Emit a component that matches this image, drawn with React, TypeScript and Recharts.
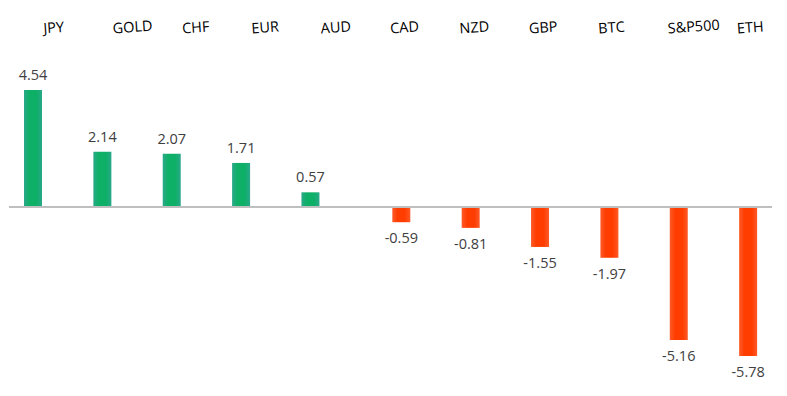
import React from 'react';
import { BarChart, Bar, XAxis, YAxis, ReferenceLine, LabelList } from 'recharts';

const categories = ['JPY', 'GOLD', 'CHF', 'EUR', 'AUD', 'CAD', 'NZD', 'GBP', 'BTC', 'S&P500', 'ETH'];
const changes = [4.54, 2.14, 2.07, 1.71, 0.57, -0.59, -0.81, -1.55, -1.97, -5.16, -5.78];

const chartData = categories.map((name, i) => ({
  name,
  gain: changes[i] > 0 ? changes[i] : null,
  loss: changes[i] < 0 ? changes[i] : null,
}));

const FONT = "'Open Sans', sans-serif";

const CategoryTick = (props: any) => {
  const { x, y, payload } = props;
  return (
    <text
      x={x}
      y={y}
      dy={-11}
      textAnchor="start"
      fill="#000"
      fontSize={14.5}
      fontFamily={FONT}
      transform={`rotate(-4, ${x}, ${y - 11})`}
    >
      {payload.value}
    </text>
  );
};

// value label above a green bar, below a red one
const ValueLabel = (props: any) => {
  const { x, y, width, height, value } = props;
  if (value === null || value === undefined) return null;
  const cx = x + width / 2;
  const top = Math.min(y, y + height);
  const bottom = Math.max(y, y + height);
  const neg = value < 0;
  return (
    <text
      x={cx}
      y={neg ? bottom + 21 : top - 10}
      textAnchor="middle"
      fill="#404040"
      fontSize={14.5}
      fontFamily={FONT}
    >
      {value}
    </text>
  );
};

const App = () => {
  return (
    <div style={{ position: 'absolute', left: 0, top: 0 }}>
      <BarChart
        width={787}
        height={396}
        data={chartData}
        margin={{ top: 32.4, right: 15, left: 9, bottom: 21.5 }}
        barSize={18}
        barGap={3.5}
      >
        <defs>
          <linearGradient id="greenFill" x1="0" y1="0" x2="1" y2="0">
            <stop offset="0%" stopColor="#2aa88a" />
            <stop offset="30%" stopColor="#0db066" />
            <stop offset="70%" stopColor="#0db066" />
            <stop offset="100%" stopColor="#2aa88a" />
          </linearGradient>
          <linearGradient id="redFill" x1="0" y1="0" x2="1" y2="0">
            <stop offset="0%" stopColor="#ff5a28" />
            <stop offset="30%" stopColor="#ff3d00" />
            <stop offset="70%" stopColor="#ff3d00" />
            <stop offset="100%" stopColor="#ff5a28" />
          </linearGradient>
        </defs>
        <XAxis
          dataKey="name"
          orientation="top"
          height={20}
          axisLine={false}
          tickLine={false}
          interval={0}
          tick={<CategoryTick />}
        />
        <YAxis hide domain={[-6.5, 6]} />
        <Bar dataKey="gain" fill="url(#greenFill)" isAnimationActive={false}>
          <LabelList dataKey="gain" content={<ValueLabel />} />
        </Bar>
        <Bar dataKey="loss" fill="url(#redFill)" isAnimationActive={false}>
          <LabelList dataKey="loss" content={<ValueLabel />} />
        </Bar>
        <ReferenceLine y={0} stroke="#bfbfbf" strokeWidth={2} />
      </BarChart>
    </div>
  );
};

export default App;
